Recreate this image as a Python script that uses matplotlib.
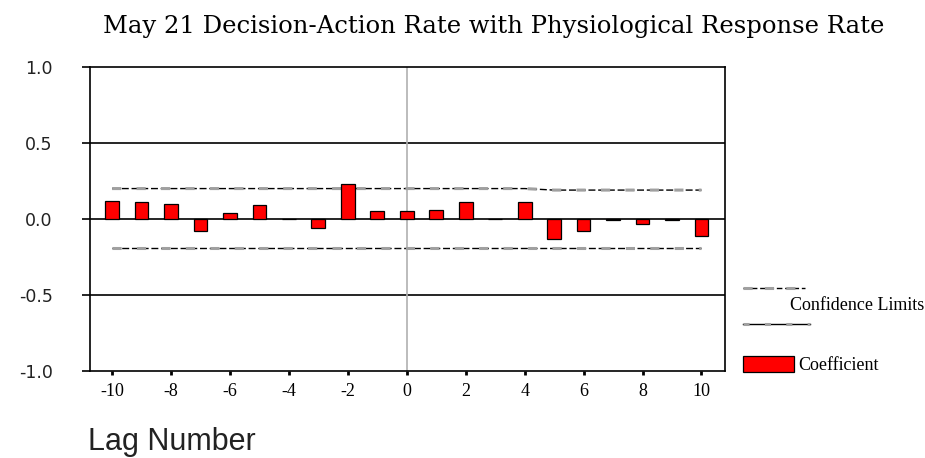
import numpy as np
import matplotlib
import matplotlib.pyplot as plt
from matplotlib.lines import Line2D
from matplotlib.patches import Rectangle

matplotlib.use('agg')

lags = list(range(-10, 11))
coefficient = [0.12, 0.11, 0.10, -0.08, 0.04, 0.09, 0.0, -0.06, 0.23, 0.05,
               0.05, 0.06, 0.11, 0.0, 0.11, -0.13, -0.08, -0.01, -0.03, -0.01, -0.11]
upper_limit = [0.20] * 15 + [0.19] * 6
lower_limit = [-0.19] * 21
y_ticks = [-1.0, -0.5, 0.0, 0.5, 1.0]
x_ticks = list(range(-10, 11, 2))

title = "May 21 Decision-Action Rate with Physiological Response Rate"

fig = plt.figure(figsize=(9.25, 4.58), dpi=100)
ax = fig.add_axes([0.0973, 0.19, 0.6865, 0.6638])

# reference lines
for yv in [-0.5, 0.0, 0.5]:
    ax.axhline(yv, color='black', lw=1.2, zorder=1)
ax.axvline(0, color='#b0b0b0', lw=1.2, zorder=1)

# confidence limits
for lim in [upper_limit, lower_limit]:
    ax.plot(lags, lim, color='black', lw=1.0, dashes=(5, 2), zorder=2)
    ax.plot(lags, lim, color='#a0a0a0', lw=2.2, dashes=(3, 5), zorder=2)

ax.bar(lags, coefficient, width=0.47, color='#ff0000', edgecolor='black',
       linewidth=0.9, zorder=3)

ax.set_xlim(-10.75, 10.8)
ax.set_ylim(-1.0, 1.0)
ax.set_yticks(y_ticks)
ax.set_yticklabels([f"{v:.1f}" for v in y_ticks], fontfamily='DejaVu Sans',
                   fontsize=12.5, color='#222222')
ax.set_xticks(x_ticks)
ax.set_xticklabels([str(v) for v in x_ticks], fontfamily='Liberation Serif',
                   fontsize=13)
ax.tick_params(axis='y', direction='out', length=6, width=1.2, pad=21)
ax.tick_params(axis='x', direction='out', length=3, width=2, pad=6)
for s in ax.spines.values():
    s.set_linewidth(1.2)

fig.text(0.534, 0.928, title, ha='center', va='baseline',
         fontfamily='DejaVu Serif', fontsize=17.5)
fig.text(0.095, 0.0175, "Lag Number", ha='left', va='baseline',
         fontfamily='Liberation Sans', fontsize=22, color='#222222')

# legend, drawn by hand (lines above and below the label like the original)
tf = fig.transFigure
fig.add_artist(Line2D([0.803, 0.870], [0.371, 0.371], transform=tf,
                      color='black', lw=1.0, dashes=(4, 2)))
fig.add_artist(Line2D([0.803, 0.870], [0.371, 0.371], transform=tf,
                      color='#a0a0a0', lw=2.2, dashes=(3, 4)))
fig.text(0.854, 0.323, "Confidence Limits", ha='left', va='baseline',
         fontfamily='Liberation Serif', fontsize=13)
fig.add_artist(Line2D([0.803, 0.876], [0.2926, 0.2926], transform=tf,
                      color='black', lw=1.0))
fig.add_artist(Line2D([0.803, 0.876], [0.2926, 0.2926], transform=tf,
                      color='#a0a0a0', lw=2.2, dashes=(2, 5)))
fig.add_artist(Rectangle((0.803, 0.1878), 0.0551, 0.035, transform=tf,
                         facecolor='#ff0000', edgecolor='black', lw=0.9))
fig.text(0.863, 0.192, "Coefficient", ha='left', va='baseline',
         fontfamily='Liberation Serif', fontsize=13)

plt.savefig('out.png', dpi=100)
